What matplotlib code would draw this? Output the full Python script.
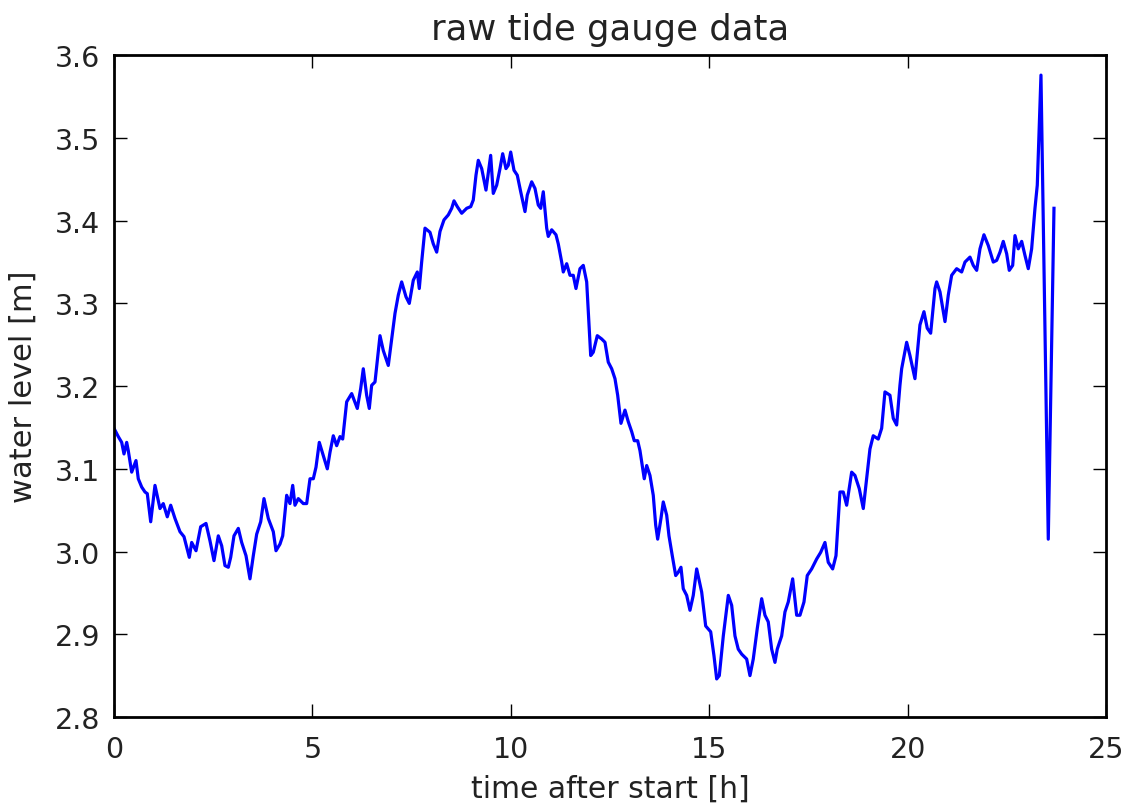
import matplotlib
matplotlib.use("Agg")
import matplotlib.pyplot as plt

# time after start [h] and water level [m]
hours = [
    0.000, 0.108, 0.194, 0.252, 0.320, 0.360, 0.446, 0.554, 0.612, 0.698,
    0.781, 0.839, 0.925, 1.033, 1.159, 1.242, 1.343, 1.429, 1.537, 1.663,
    1.764, 1.898, 1.958, 2.067, 2.185, 2.319, 2.419, 2.520, 2.629, 2.714,
    2.797, 2.881, 2.941, 3.024, 3.133, 3.218, 3.327, 3.427, 3.511, 3.596,
    3.697, 3.780, 3.889, 4.015, 4.083, 4.183, 4.252, 4.352, 4.435, 4.504,
    4.561, 4.645, 4.771, 4.856, 4.940, 5.023, 5.091, 5.174, 5.275, 5.376,
    5.444, 5.527, 5.612, 5.696, 5.764, 5.864, 5.990, 6.132, 6.217, 6.283,
    6.368, 6.434, 6.494, 6.578, 6.704, 6.787, 6.913, 6.998, 7.082, 7.165,
    7.250, 7.359, 7.442, 7.543, 7.644, 7.694, 7.754, 7.838, 7.964, 8.047,
    8.133, 8.216, 8.317, 8.425, 8.511, 8.569, 8.652, 8.763, 8.889, 8.990,
    9.055, 9.123, 9.181, 9.267, 9.375, 9.493, 9.559, 9.645, 9.728, 9.796,
    9.879, 9.937, 9.998, 10.081, 10.164, 10.250, 10.358, 10.416, 10.527, 10.610,
    10.693, 10.754, 10.819, 10.905, 10.945, 11.031, 11.139, 11.197, 11.283, 11.323,
    11.409, 11.492, 11.575, 11.643, 11.744, 11.827, 11.913, 11.953, 12.014, 12.079,
    12.180, 12.291, 12.374, 12.457, 12.543, 12.626, 12.694, 12.777, 12.878, 12.961,
    13.047, 13.112, 13.198, 13.256, 13.364, 13.425, 13.508, 13.591, 13.652, 13.702,
    13.785, 13.843, 13.929, 13.987, 14.070, 14.156, 14.221, 14.289, 14.347, 14.433,
    14.516, 14.599, 14.685, 14.811, 14.912, 15.038, 15.121, 15.189, 15.255, 15.356,
    15.482, 15.567, 15.650, 15.733, 15.819, 15.945, 16.028, 16.111, 16.212, 16.323,
    16.406, 16.489, 16.575, 16.658, 16.716, 16.827, 16.910, 16.993, 17.104, 17.205,
    17.288, 17.389, 17.472, 17.583, 17.709, 17.810, 17.918, 18.001, 18.112, 18.196,
    18.296, 18.379, 18.465, 18.591, 18.674, 18.783, 18.884, 18.969, 19.052, 19.135,
    19.261, 19.347, 19.430, 19.556, 19.640, 19.725, 19.808, 19.851, 19.977, 20.060,
    20.186, 20.312, 20.413, 20.496, 20.582, 20.691, 20.733, 20.817, 20.943, 21.026,
    21.111, 21.237, 21.363, 21.447, 21.573, 21.656, 21.742, 21.825, 21.925, 22.034,
    22.160, 22.245, 22.329, 22.412, 22.498, 22.563, 22.649, 22.707, 22.790, 22.876,
    22.959, 23.042, 23.127, 23.211, 23.269, 23.362, 23.546, 23.690,
]
level = [
    3.149, 3.139, 3.132, 3.118, 3.132, 3.122, 3.096, 3.110, 3.088, 3.078,
    3.072, 3.070, 3.036, 3.080, 3.052, 3.058, 3.042, 3.056, 3.040, 3.024,
    3.018, 2.993, 3.011, 3.001, 3.030, 3.034, 3.013, 2.989, 3.019, 3.007,
    2.983, 2.981, 2.993, 3.019, 3.028, 3.011, 2.995, 2.967, 2.995, 3.021,
    3.036, 3.064, 3.040, 3.024, 3.001, 3.009, 3.019, 3.068, 3.058, 3.080,
    3.056, 3.064, 3.058, 3.058, 3.088, 3.088, 3.102, 3.132, 3.116, 3.100,
    3.120, 3.140, 3.128, 3.139, 3.136, 3.181, 3.191, 3.173, 3.197, 3.221,
    3.189, 3.173, 3.201, 3.205, 3.261, 3.243, 3.225, 3.257, 3.288, 3.310,
    3.326, 3.308, 3.300, 3.328, 3.338, 3.318, 3.350, 3.391, 3.386, 3.372,
    3.362, 3.387, 3.401, 3.407, 3.415, 3.424, 3.417, 3.409, 3.415, 3.417,
    3.425, 3.455, 3.473, 3.463, 3.437, 3.479, 3.433, 3.443, 3.463, 3.481,
    3.463, 3.467, 3.483, 3.461, 3.455, 3.435, 3.411, 3.431, 3.447, 3.439,
    3.419, 3.415, 3.435, 3.391, 3.381, 3.389, 3.383, 3.372, 3.350, 3.338,
    3.348, 3.334, 3.334, 3.318, 3.342, 3.346, 3.326, 3.290, 3.237, 3.241,
    3.261, 3.257, 3.253, 3.229, 3.221, 3.209, 3.189, 3.155, 3.171, 3.157,
    3.145, 3.134, 3.134, 3.122, 3.088, 3.104, 3.092, 3.068, 3.032, 3.015,
    3.040, 3.060, 3.044, 3.019, 2.995, 2.971, 2.975, 2.981, 2.955, 2.947,
    2.929, 2.947, 2.979, 2.951, 2.910, 2.903, 2.874, 2.846, 2.850, 2.898,
    2.947, 2.935, 2.898, 2.882, 2.876, 2.870, 2.850, 2.870, 2.907, 2.943,
    2.923, 2.915, 2.882, 2.866, 2.882, 2.898, 2.927, 2.939, 2.967, 2.923,
    2.923, 2.939, 2.971, 2.979, 2.991, 2.999, 3.011, 2.987, 2.979, 2.995,
    3.072, 3.072, 3.056, 3.096, 3.092, 3.076, 3.052, 3.088, 3.124, 3.140,
    3.136, 3.149, 3.193, 3.189, 3.161, 3.153, 3.201, 3.221, 3.253, 3.237,
    3.209, 3.274, 3.290, 3.270, 3.264, 3.318, 3.326, 3.314, 3.278, 3.310,
    3.334, 3.342, 3.338, 3.350, 3.356, 3.346, 3.340, 3.366, 3.383, 3.370,
    3.350, 3.352, 3.362, 3.375, 3.360, 3.340, 3.346, 3.382, 3.366, 3.375,
    3.358, 3.342, 3.366, 3.415, 3.443, 3.576, 3.015, 3.415,
]

fig = plt.figure(figsize=(11.32, 8.04), dpi=100)
ax = fig.add_axes([0.1007, 0.107, 0.8763, 0.823])

ax.plot(hours, level, color="blue", linewidth=2.3)

ax.set_xlim(0, 25)
ax.set_ylim(2.8, 3.6)
ax.set_xticks([0, 5, 10, 15, 20, 25])
ax.set_yticks([2.8, 2.9, 3.0, 3.1, 3.2, 3.3, 3.4, 3.5, 3.6])
ax.set_yticklabels(["2.8", "2.9", "3.0", "3.1", "3.2", "3.3", "3.4", "3.5", "3.6"])

ax.tick_params(direction="in", top=True, right=True, length=9.5, width=1.0,
               labelsize=20.5, colors="black", labelcolor="#222222")
ax.tick_params(axis="x", pad=13)
ax.tick_params(axis="y", pad=10)
for s in ax.spines.values():
    s.set_linewidth(2.0)

ax.set_title("raw tide gauge data", fontsize=25.5, pad=12, color="#222222")
ax.set_xlabel("time after start [h]", fontsize=21.5, labelpad=8, color="#222222")
ax.set_ylabel("water level [m]", fontsize=22, labelpad=12, color="#222222")

fig.savefig("out.png", dpi=100, facecolor="white")
